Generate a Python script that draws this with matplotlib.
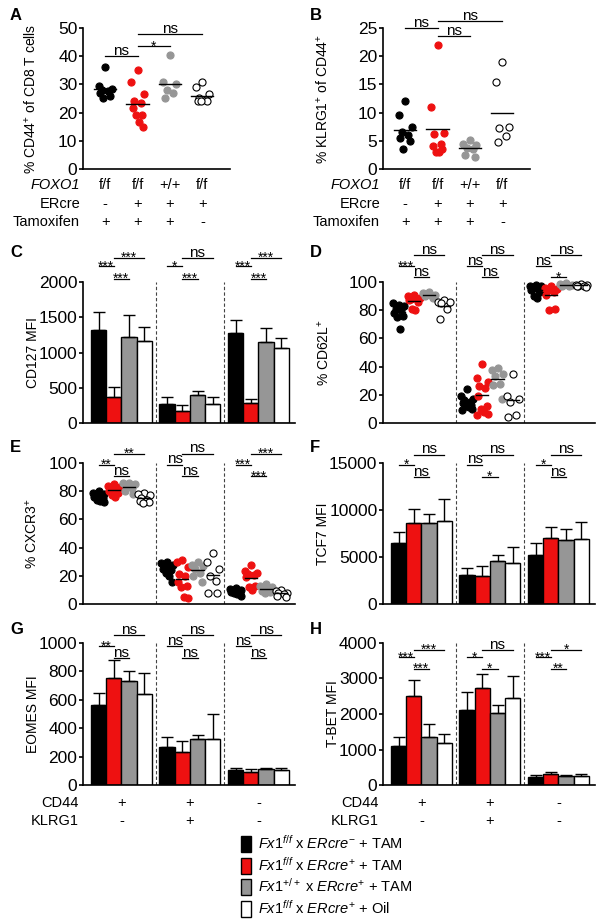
import numpy as np
import matplotlib.pyplot as plt
from matplotlib.patches import Patch

plt.rcParams['font.family'] = ['Liberation Sans', 'DejaVu Sans']
plt.rcParams['mathtext.fontset'] = 'custom'
plt.rcParams['mathtext.rm'] = 'Liberation Sans'
plt.rcParams['mathtext.it'] = 'Liberation Sans:italic'
plt.rcParams['mathtext.bf'] = 'Liberation Sans:bold'
plt.rcParams['axes.linewidth'] = 1.2

# four mouse groups (legend order)
group_labels = [r'$\mathit{Fx1}^{\mathit{f/f}}$ x $\mathit{ERcre}^{-}$ + TAM',
                r'$\mathit{Fx1}^{\mathit{f/f}}$ x $\mathit{ERcre}^{+}$ + TAM',
                r'$\mathit{Fx1}^{+/+}$ x $\mathit{ERcre}^{+}$ + TAM',
                r'$\mathit{Fx1}^{\mathit{f/f}}$ x $\mathit{ERcre}^{+}$ + Oil']
cols = ['black', '#ee1111', '#969696', 'white']

foxo1_row = ['f/f', 'f/f', '+/+', 'f/f']
ercre_row = ['-', '+', '+', '+']
tam_row = ['+', '+', '+', '-']
cd44_row = ['+', '+', '-']
klrg1_row = ['-', '+', '-']

# A: % CD44+ of CD8 T cells
A_black = [36, 29.5, 28.5, 28, 27.5, 27, 26, 25]
A_red = [35, 31, 26.5, 24, 23.5, 21.5, 19, 19, 16.5, 15]
A_gray = [40.5, 31, 30, 28, 27, 25]
A_open = [31, 29, 26.5, 25, 24.5, 24, 24, 24]
A_sig = ['ns', '*', 'ns']   # black-red, red-gray, red-white

# B: % KLRG1+ of CD44+
B_black = [12, 9.5, 7.5, 6.5, 6, 5.5, 5, 3.5]
B_red = [22, 11, 6.3, 6.2, 4.5, 4, 3.5, 3, 3]
B_gray = [5.2, 4.5, 4.3, 3.8, 3.5, 2.5, 2.2]
B_open = [19, 15.5, 7.5, 7.2, 5.8, 4.7]
B_sig = ['ns', 'ns', 'ns']

# subsets: CD44+KLRG1-, CD44+KLRG1+, CD44-KLRG1-
C_mean = [[1320, 370, 1225, 1165], [275, 171, 394, 266], [1273, 290, 1154, 1059]]
C_sd = [[250, 143, 309, 203], [95, 90, 62, 104], [185, 57, 190, 147]]
C_sig = [['***', '***', '***'], ['*', '***', 'ns'], ['***', '***', '***']]

D_black = [[84, 85, 83, 81, 80, 78, 76, 75, 67],
           [24, 19, 17, 16, 15, 14, 13, 12, 11, 10, 9],
           [98, 97, 97, 96, 95, 94, 93, 90, 89]]
D_red = [[91, 90, 89, 88, 88, 87, 86, 81, 80],
         [42, 32, 29, 26, 25, 19, 12, 10, 8, 6.5, 5.5],
         [97, 96, 95, 94, 93, 91, 81, 80]]
D_gray = [[93, 92, 91, 91, 90, 90, 89],
          [39, 37.5, 35, 33, 28, 27, 17],
          [99, 98.5, 98, 98, 97.5, 97]]
D_open = [[87, 86, 86, 85, 81, 74],
          [35, 19, 17, 15, 6, 4],
          [98.5, 98, 98, 97.5, 97.5, 97, 96.5]]
D_sig = [['***', 'ns', 'ns'], ['ns', 'ns', 'ns'], ['ns', '*', 'ns']]

E_black = [[80, 79, 78, 78, 77, 76, 75, 74, 73, 72],
           [30, 29, 28, 27, 26, 25, 24, 22, 20, 15.5],
           [11, 10.5, 10, 9.5, 9, 8.5, 8, 7.5, 7, 6]]
E_red = [[85, 84, 83, 82, 81, 80, 79, 77, 76],
         [31, 30, 26.5, 21, 20, 15.5, 13, 12, 5, 4],
         [27.5, 23.5, 22, 21, 20.5, 19, 13, 12, 10]]
E_gray = [[86, 85.5, 85, 84, 82, 80, 78],
          [29.5, 28, 27, 25, 22, 20, 15.5],
          [14.5, 13, 12, 11, 10, 9, 8.5, 8]]
E_open = [[79, 78, 77, 75, 74, 73, 72, 71.5],
          [36.5, 29.5, 25, 20, 16.5, 7.5, 7.5],
          [10, 9, 8, 8, 7, 6, 5]]
E_sig = [['**', 'ns', '**'], ['ns', 'ns', 'ns'], ['***', '***', '***']]

F_mean = [[6530, 8590, 8590, 8840], [3090, 2950, 4620, 4330], [5220, 7060, 6820, 6920]]
F_sd = [[1170, 1510, 990, 2340], [710, 1100, 630, 1740], [1240, 1180, 1130, 1850]]
F_sig = [['*', 'ns', 'ns'], ['ns', '*', 'ns'], ['*', 'ns', 'ns']]

G_mean = [[560, 753, 729, 640], [268, 235, 322, 322], [105, 95, 110, 108]]
G_sd = [[87, 125, 76, 151], [73, 78, 31, 179], [15, 15, 8, 14]]
G_sig = [['**', 'ns', 'ns'], ['ns', 'ns', 'ns'], ['ns', 'ns', 'ns']]

H_mean = [[1100, 2512, 1365, 1176], [2117, 2738, 2042, 2437], [216, 301, 254, 263]]
H_sd = [[265, 443, 357, 254], [490, 386, 216, 640], [57, 57, 28, 57]]
H_sig = [['***', '***', '***'], ['*', '*', 'ns'], ['***', '**', '*']]

W, H = 604, 922
fig = plt.figure(figsize=(W / 100, H / 100), dpi=100)


def make_ax(l, t, r, b):
    return fig.add_axes([l / W, 1 - b / H, (r - l) / W, (b - t) / H])


def jitter(n, w):
    pat = [0, -1, 1, -0.5, 0.5, -0.75, 0.75, -0.25, 0.25, 0.9, -0.9]
    return np.array([pat[k % len(pat)] for k in range(n)]) * w


def style(ax, ymax, step, label, lab_x):
    ax.set_ylim(0, ymax)
    ax.set_yticks(np.arange(0, ymax + step / 2, step))
    ax.spines[['top', 'right']].set_visible(False)
    ax.tick_params(axis='y', length=3, width=1.2, pad=1, labelsize=12.5)
    ax.tick_params(axis='x', length=0, labelbottom=False)
    ax.set_ylabel(label, fontsize=10)
    ax.yaxis.set_label_coords(lab_x, 0.5)


def bracket(ax, x1, x2, y, txt):
    ax.plot([x1, x2], [y, y], color='black', lw=0.9, clip_on=False)
    if txt == 'ns':
        ax.annotate(txt, ((x1 + x2) / 2, y), xytext=(0, 1), textcoords='offset points',
                    ha='center', va='baseline', fontsize=11, annotation_clip=False)
    else:
        ax.annotate(txt, ((x1 + x2) / 2, y), xytext=(0, -3), textcoords='offset points',
                    ha='center', va='baseline', fontsize=10, annotation_clip=False)


def dots(ax, x0, v, k, w, mw):
    v = np.array(v)
    ec = 'black' if k == 3 else cols[k]
    ax.scatter(x0 + jitter(len(v), w), v, s=26, c=cols[k], edgecolors=ec,
               linewidths=0.8, zorder=3, clip_on=False)
    ax.plot([x0 - mw, x0 + mw], [v.mean()] * 2, color='black', lw=1, zorder=4)


def dot_panel(ax, vals, sig, levels):
    for k, v in enumerate(vals):
        dots(ax, k, v, k, 0.2, 0.34)
    ax.set_xlim(-0.68, 3.85)
    bracket(ax, 0, 1, levels[0], sig[0])
    bracket(ax, 1, 2, levels[1], sig[1])
    bracket(ax, 1, 3, levels[2], sig[2])
    tr = ax.get_xaxis_transform()
    for row, name, yy in [(foxo1_row, 'FOXO1', -0.115), (ercre_row, 'ERcre', -0.245),
                          (tam_row, 'Tamoxifen', -0.378)]:
        ax.text(-0.02, yy, name, transform=ax.transAxes, ha='right', va='center',
                fontsize=10.5, fontstyle='italic' if name == 'FOXO1' else 'normal')
        for k, s in enumerate(row):
            ax.text(k, yy, s, transform=tr, ha='center', va='center', fontsize=10.5)


def subset_common(ax, sig, levels):
    ax.set_xlim(-1.02, 12.9)
    for xs in [3.75, 8.25]:
        ax.axvline(xs, color='#444444', lw=0.8, ls=(0, (3, 2)), zorder=1)
    for g in range(3):
        b = g * 4.5
        bracket(ax, b + 0, b + 1, levels[1], sig[g][0])
        bracket(ax, b + 1, b + 2, levels[2], sig[g][1])
        bracket(ax, b + 1, b + 3, levels[0], sig[g][2])


def bar_panel(ax, means, sds, sig, levels):
    for g in range(3):
        x = g * 4.5 + np.arange(4)
        ax.bar(x, means[g], width=1, color=cols, edgecolor='black', linewidth=1, zorder=2)
        ax.errorbar(x, means[g], yerr=[np.zeros(4), sds[g]], fmt='none', ecolor='black',
                    elinewidth=1, capsize=4, capthick=1, zorder=3)
    subset_common(ax, sig, levels)


def scatter_panel(ax, groups, sig, levels):
    for k, data in enumerate(groups):
        for g in range(3):
            dots(ax, g * 4.5 + k, data[g], k, 0.38, 0.4)
    subset_common(ax, sig, levels)


def subset_rows(ax):
    tr = ax.get_xaxis_transform()
    for row, name, yy in [(cd44_row, 'CD44', -0.127), (klrg1_row, 'KLRG1', -0.254)]:
        ax.text(-0.02, yy, name, transform=ax.transAxes, ha='right', va='center', fontsize=10.5)
        for g, s in enumerate(row):
            ax.text(g * 4.5 + 1.5, yy, s, transform=tr, ha='center', va='center', fontsize=10.5)


axA = make_ax(83, 28, 230, 169)
dot_panel(axA, [A_black, A_red, A_gray, A_open], A_sig, [40, 43.5, 47.7])
style(axA, 50, 10, r'% CD44$^{+}$ of CD8 T cells', -0.30)

axB = make_ax(383, 28, 530, 169)
dot_panel(axB, [B_black, B_red, B_gray, B_open], B_sig, [25, 23.6, 26.2])
style(axB, 25, 5, r'% KLRG1$^{+}$ of CD44$^{+}$', -0.354)

axC = make_ax(83, 282, 295, 423)
bar_panel(axC, C_mean, C_sd, C_sig, [2342, 2223, 2043])
style(axC, 2000, 500, 'CD127 MFI', -0.203)

axD = make_ax(383, 282, 595, 423)
scatter_panel(axD, [D_black, D_red, D_gray, D_open], D_sig, [119, 111, 103.3])
style(axD, 100, 20, r'% CD62L$^{+}$', -0.241)

axE = make_ax(83, 463, 295, 604)
scatter_panel(axE, [E_black, E_red, E_gray, E_open], E_sig, [106.6, 98.8, 90.5])
style(axE, 100, 20, r'% CXCR3$^{+}$', -0.203)

axF = make_ax(383, 463, 595, 604)
bar_panel(axF, F_mean, F_sd, F_sig, [15900, 14800, 13500])
style(axF, 15000, 5000, 'TCF7 MFI', -0.25)

axG = make_ax(83, 643, 295, 785)
bar_panel(axG, G_mean, G_sd, G_sig, [1054, 976, 894])
style(axG, 1000, 200, 'EOMES MFI', -0.203)
subset_rows(axG)

axH = make_ax(383, 643, 595, 785)
bar_panel(axH, H_mean, H_sd, H_sig, [3800, 3600, 3280])
style(axH, 4000, 1000, 'T-BET MFI', -0.203)
subset_rows(axH)

for lab, x, y in [('A', 10, 15), ('B', 310, 15), ('C', 10, 252), ('D', 310, 252),
                  ('E', 10, 447), ('F', 310, 447), ('G', 10, 630), ('H', 310, 630)]:
    fig.text(x / W, 1 - y / H, lab, fontsize=12, fontweight='bold', va='center')

handles = [Patch(facecolor=c, edgecolor='black', linewidth=1) for c in cols]
fig.legend(handles, group_labels, loc='upper left', bbox_to_anchor=(241 / W, 1 - 834 / H),
           frameon=False, fontsize=10.5, handlelength=0.7, handleheight=1.3,
           handletextpad=0.45, labelspacing=0.25, borderpad=0, borderaxespad=0)

fig.savefig('out.png', dpi=100)
